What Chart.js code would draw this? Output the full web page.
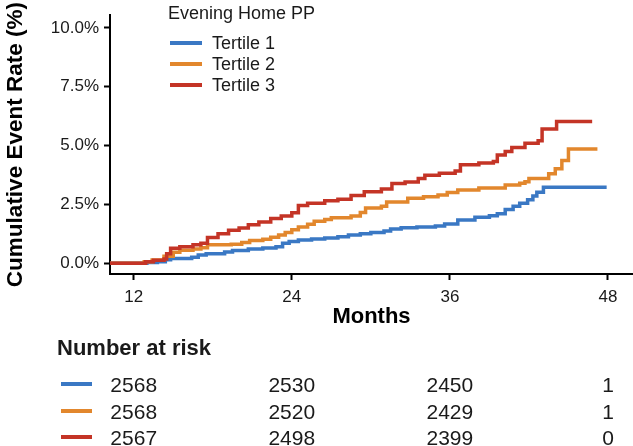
<!DOCTYPE html>
<html>
<head>
<meta charset="utf-8">
<script src="https://cdn.jsdelivr.net/npm/chart.js@4.4.0/dist/chart.umd.min.js"></script>
<style>
  html, body { margin: 0; padding: 0; background: #fff; }
  #wrap { position: relative; width: 633px; height: 446px; font-family: "Liberation Sans", Arial, sans-serif; color: #1a1a1a; }
  #wrap canvas { position: absolute; left: 0; top: 0; }
  .lbl { position: absolute; white-space: nowrap; line-height: 1; }
  .key { position: absolute; height: 4px; }
</style>
</head>
<body>
<div id="wrap"><canvas id="km" width="633" height="446"></canvas></div>
<script>
// series names + tick values
const seriesNames = ['Tertile 1', 'Tertile 2', 'Tertile 3'];
const legendTitle = 'Evening Home PP';
const xTicks = [12, 24, 36, 48];
const yTicks = [0, 2.5, 5, 7.5, 10];

// cumulative event rate (%), month / value pairs
const t1Months = [10.2, 12.3, 13.0, 13.8, 14.4, 14.8, 16.4, 16.9, 17.5, 18.9, 19.5, 20.7, 21.8, 22.8, 23.3, 23.8, 24.5, 25.5, 26.5, 27.5, 28.3, 29.2, 30.0, 31.0, 31.5, 32.3, 33.5, 34.9, 35.6, 36.6, 37.9, 39.0, 39.6, 40.2, 40.8, 41.3, 41.9, 42.3, 42.6, 43.1, 47.9];
const t1Rate   = [0, 0, 0.03, 0.06, 0.15, 0.2, 0.25, 0.35, 0.4, 0.47, 0.54, 0.6, 0.65, 0.7, 0.85, 0.92, 0.99, 1.03, 1.07, 1.12, 1.2, 1.25, 1.3, 1.37, 1.45, 1.51, 1.54, 1.58, 1.67, 1.84, 1.95, 2.02, 2.1, 2.28, 2.42, 2.55, 2.7, 2.85, 3.02, 3.23, 3.23];

const t2Months = [10.2, 12.2, 12.8, 13.4, 14.3, 15.0, 15.5, 16.5, 17.1, 17.6, 19.4, 20.2, 20.8, 21.8, 22.4, 23.0, 23.5, 24.0, 24.5, 25.2, 25.7, 26.5, 27.0, 28.5, 29.2, 29.6, 30.8, 31.2, 32.8, 34.0, 35.1, 35.8, 36.6, 38.2, 40.2, 41.3, 41.7, 42.0, 43.5, 44.0, 44.5, 45.0, 47.2];
const t2Rate   = [0, 0, 0.06, 0.14, 0.29, 0.46, 0.55, 0.6, 0.66, 0.78, 0.8, 0.88, 0.96, 1.02, 1.1, 1.2, 1.3, 1.42, 1.54, 1.65, 1.78, 1.86, 1.93, 2.0, 2.15, 2.35, 2.42, 2.6, 2.76, 2.82, 2.9, 3.0, 3.11, 3.2, 3.32, 3.4, 3.46, 3.6, 3.8, 4.01, 4.36, 4.85, 4.85];

const t3Months = [10.2, 12.3, 12.9, 13.5, 14.3, 14.5, 14.8, 15.5, 16.5, 17.1, 17.6, 18.4, 19.2, 20.0, 20.7, 21.5, 22.4, 23.2, 24.0, 24.5, 25.2, 26.5, 27.5, 28.5, 29.5, 30.8, 31.6, 32.6, 33.6, 34.1, 35.2, 36.4, 36.8, 38.2, 39.3, 39.6, 40.2, 40.7, 41.7, 42.7, 43.0, 44.1, 46.8];
const t3Rate   = [0, 0, 0.06, 0.12, 0.18, 0.4, 0.63, 0.7, 0.78, 0.85, 1.09, 1.25, 1.4, 1.5, 1.63, 1.75, 1.9, 2.0, 2.14, 2.45, 2.55, 2.65, 2.72, 2.88, 3.04, 3.15, 3.39, 3.45, 3.6, 3.74, 3.82, 3.92, 4.18, 4.26, 4.32, 4.6, 4.75, 4.92, 5.1, 5.2, 5.7, 6.02, 6.02];

// number at risk table
const riskTitle = 'Number at risk';
const riskMonths = [12, 24, 36, 48];
const riskT1 = [2568, 2530, 2450, 1];
const riskT2 = [2568, 2520, 2429, 1];
const riskT3 = [2567, 2498, 2399, 0];

const colors = ['#3a78c4', '#e2872d', '#c43426'];
const family = '"Liberation Sans", Arial, sans-serif';

const toPoints = (xs, ys) => xs.map((m, i) => ({ x: m, y: ys[i] }));
const months = [t1Months, t2Months, t3Months];
const rates = [t1Rate, t2Rate, t3Rate];

const chart = new Chart(document.getElementById('km'), {
  type: 'line',
  data: {
    datasets: seriesNames.map((name, i) => ({
      label: name,
      data: toPoints(months[i], rates[i]),
      borderColor: colors[i],
      backgroundColor: colors[i],
      borderWidth: 3.5,
      stepped: true,
      pointRadius: 0,
      fill: false,
      order: 2 - i
    }))
  },
  options: {
    responsive: false,
    animation: false,
    devicePixelRatio: 1,
    layout: { padding: { top: 11, left: 0, right: 0, bottom: 116 } },
    plugins: { legend: { display: false }, tooltip: { enabled: false } },
    scales: {
      x: {
        type: 'linear',
        min: 10.2,
        max: 49.9,
        afterFit: s => { s.height = 56; },
        afterBuildTicks: s => { s.ticks = xTicks.map(v => ({ value: v })); },
        grid: { drawOnChartArea: false, drawTicks: true, tickLength: 6, tickWidth: 2, tickColor: '#000' },
        border: { display: true, color: '#000', width: 2 },
        ticks: { color: '#1a1a1a', font: { size: 17, family }, padding: 7, maxRotation: 0 },
        title: { display: true, text: 'Months', color: '#000', font: { size: 22, weight: 'bold', family }, padding: 0 }
      },
      y: {
        type: 'linear',
        min: -0.46,
        max: 10.54,
        afterFit: s => { s.width = 110; },
        afterBuildTicks: s => { s.ticks = yTicks.map(v => ({ value: v })); },
        grid: { drawOnChartArea: false, drawTicks: true, tickLength: 6, tickWidth: 2, tickColor: '#000' },
        border: { display: true, color: '#000', width: 2 },
        ticks: { color: '#1a1a1a', font: { size: 17, family }, padding: 5, callback: v => v.toFixed(1) + '%' },
        title: { display: true, text: 'Cumulative Event Rate (%)', color: '#000', font: { size: 22.5, weight: 'bold', family }, padding: { top: 2, bottom: 0 } }
      }
    }
  }
});

// html overlay: legend + risk table
const wrap = document.getElementById('wrap');
function addText(text, x, y, size, bold, center) {
  const d = document.createElement('div');
  d.className = 'lbl';
  d.textContent = text;
  d.style.left = x + 'px';
  d.style.top = y + 'px';
  d.style.fontSize = size + 'px';
  if (bold) d.style.fontWeight = 'bold';
  d.style.transform = center ? 'translate(-50%, -50%)' : 'translate(0, -50%)';
  wrap.appendChild(d);
}
function addKey(color, x, y, w) {
  const k = document.createElement('div');
  k.className = 'key';
  k.style.left = x + 'px';
  k.style.top = (y - 2) + 'px';
  k.style.width = w + 'px';
  k.style.background = color;
  wrap.appendChild(k);
}

addText(legendTitle, 168, 13, 18, false, false);
seriesNames.forEach((name, i) => {
  addKey(colors[i], 170, 43 + i * 21, 32);
  addText(name, 212, 43 + i * 21, 18, false, false);
});

const xs = chart.scales.x;
addText(riskTitle, 57, 348, 22, true, false);
[riskT1, riskT2, riskT3].forEach((row, i) => {
  const y = 384 + i * 26.5;
  addKey(colors[i], 61, y, 31);
  row.forEach((n, j) => addText(String(n), xs.getPixelForValue(riskMonths[j]), y, 21, false, true));
});
</script>
</body>
</html>
